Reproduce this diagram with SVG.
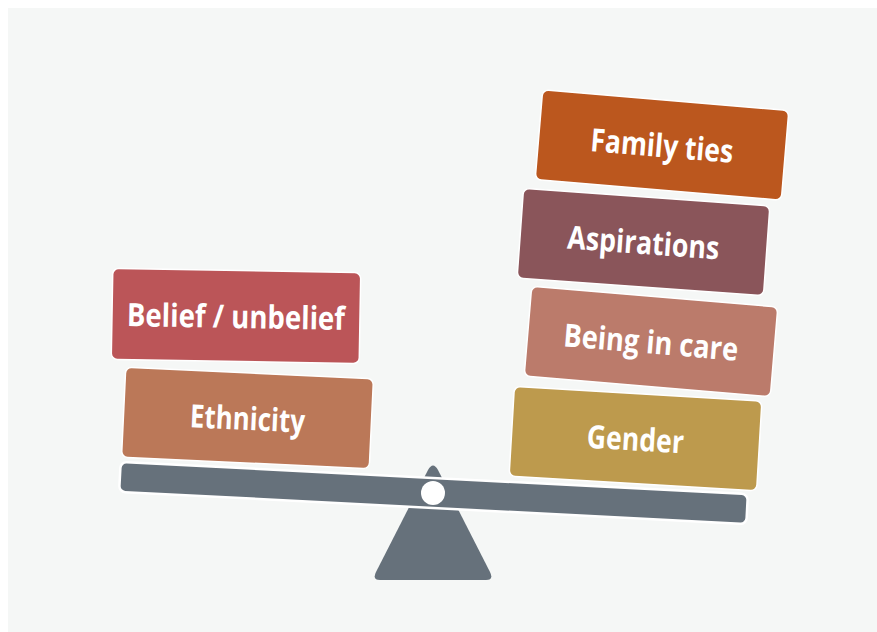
<svg xmlns="http://www.w3.org/2000/svg" width="877" height="632" viewBox="0 0 877 632">
<style>
.blk{stroke:#ffffff;stroke-width:1.5}
.lbl{font-family:"Open Sans","Noto Sans","Liberation Sans",sans-serif;font-weight:700;font-size:32px;fill:#ffffff;text-anchor:middle}
</style>
<rect x="0" y="0" width="877" height="632" fill="#ffffff"/>
<rect x="8" y="8" width="869" height="624" fill="#f5f7f6"/>
<g id="fulcrum">
<path d="M428,470 Q433,461 438,470 L490,572 Q494,580 486,580 L380,580 Q372,580 376,572 Z" fill="#66717b"/>
</g>
<g id="beam">
<rect x="-314" y="-15" width="628" height="30" rx="6" transform="translate(433.5,493) rotate(2.95)" fill="#66717b" stroke="#ffffff" stroke-width="2.5"/>
<circle cx="433" cy="493" r="12" fill="#ffffff"/>
</g>
<g id="belief" transform="translate(236,316) rotate(1)">
<rect class="blk" x="-124" y="-45.5" width="248" height="91" rx="6" fill="#bb5558"/>
<text class="lbl" x="0" y="12" textLength="218" lengthAdjust="spacingAndGlyphs">Belief / unbelief</text>
</g>
<g id="ethnicity" transform="translate(247.5,418) rotate(2.7)">
<rect class="blk" x="-124" y="-45" width="248" height="90" rx="6" fill="#bb7858"/>
<text class="lbl" x="0" y="12" textLength="115" lengthAdjust="spacingAndGlyphs">Ethnicity</text>
</g>
<g id="familyties" transform="translate(662,145) rotate(4.8)">
<rect class="blk" x="-123.5" y="-45" width="247" height="90" rx="6" fill="#bb571e"/>
<text class="lbl" x="0" y="12" textLength="143" lengthAdjust="spacingAndGlyphs">Family ties</text>
</g>
<g id="aspirations" transform="translate(643.5,242) rotate(4.1)">
<rect class="blk" x="-123.5" y="-45" width="247" height="90" rx="6" fill="#8a555a"/>
<text class="lbl" x="0" y="12" textLength="152" lengthAdjust="spacingAndGlyphs">Aspirations</text>
</g>
<g id="beingincare" transform="translate(651,341.5) rotate(4.8)">
<rect class="blk" x="-123.5" y="-45" width="247" height="90" rx="6" fill="#bb7b6b"/>
<text class="lbl" x="0" y="12" textLength="175" lengthAdjust="spacingAndGlyphs">Being in care</text>
</g>
<g id="gender" transform="translate(635.5,438.6) rotate(3.4)">
<rect class="blk" x="-124" y="-45" width="248" height="90" rx="6" fill="#bd9a4d"/>
<text class="lbl" x="0" y="12" textLength="97" lengthAdjust="spacingAndGlyphs">Gender</text>
</g>
<g id="connectors"></g>
</svg>
